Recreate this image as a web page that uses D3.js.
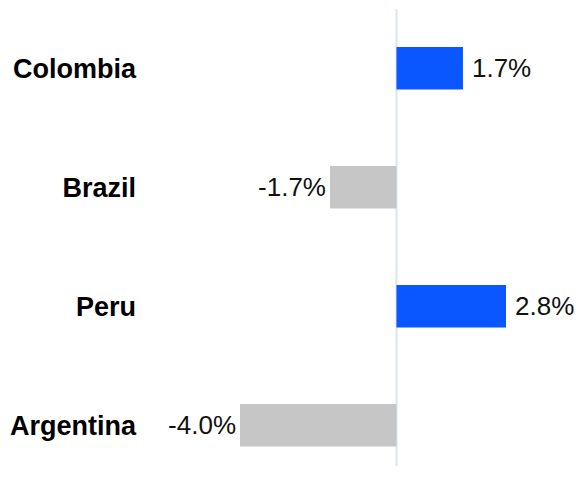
<!DOCTYPE html>
<html>
<head>
<meta charset="utf-8">
<script src="https://cdn.jsdelivr.net/npm/d3@7"></script>
<style>
  body { margin: 0; background: #fff; }
  text { font-family: "Liberation Sans", Arial, sans-serif; }
</style>
</head>
<body>
<div class="chart"></div>
<script>
var countries = ['Colombia', 'Brazil', 'Peru', 'Argentina'];
var values = [1.7, -1.7, 2.8, -4.0];
var valueLabels = ['1.7%', '-1.7%', '2.8%', '-4.0%'];

var data = countries.map((c, i) => ({ country: c, value: values[i], label: valueLabels[i] }));

var width = 579, height = 482;

var svg = d3.select('.chart')
  .append('svg')
    .attr('width', width)
    .attr('height', height);

var xScale = d3.scaleLinear()
  .domain([-4.0, 2.8])
  .range([240, 506]);

var yScale = d3.scaleBand()
  .domain(countries)
  .range([11.3, 482.2])
  .paddingInner(0.643)
  .paddingOuter(0.3);

// zero line
svg.append('line')
  .attr('x1', xScale(0)).attr('x2', xScale(0))
  .attr('y1', 9).attr('y2', 466)
  .style('stroke', '#d9e2f8')
  .style('stroke-width', 2);

svg.selectAll('.bar')
  .data(data)
  .enter()
  .append('rect')
    .attr('class', 'bar')
    .attr('x', d => xScale(Math.min(0, d.value)))
    .attr('width', d => Math.abs(xScale(d.value) - xScale(0)))
    .attr('y', d => yScale(d.country))
    .attr('height', yScale.bandwidth())
    .style('fill', d => d.value >= 0 ? '#0a56ff' : '#c6c6c6');

svg.selectAll('.value')
  .data(data)
  .enter()
  .append('text')
    .attr('class', 'value')
    .attr('x', d => d.value >= 0 ? xScale(d.value) + 9 : xScale(d.value) - 4)
    .attr('y', d => yScale(d.country) + yScale.bandwidth() / 2)
    .attr('dy', '0.35em')
    .attr('text-anchor', d => d.value >= 0 ? 'start' : 'end')
    .style('font-size', '26px')
    .style('fill', '#111')
    .text(d => d.label);

svg.selectAll('.country')
  .data(data)
  .enter()
  .append('text')
    .attr('class', 'country')
    .attr('x', 136)
    .attr('y', d => yScale(d.country) + yScale.bandwidth() / 2)
    .attr('dy', '0.35em')
    .attr('text-anchor', 'end')
    .style('font-size', '27px')
    .style('font-weight', 'bold')
    .style('fill', '#000')
    .text(d => d.country);
</script>
</body>
</html>
